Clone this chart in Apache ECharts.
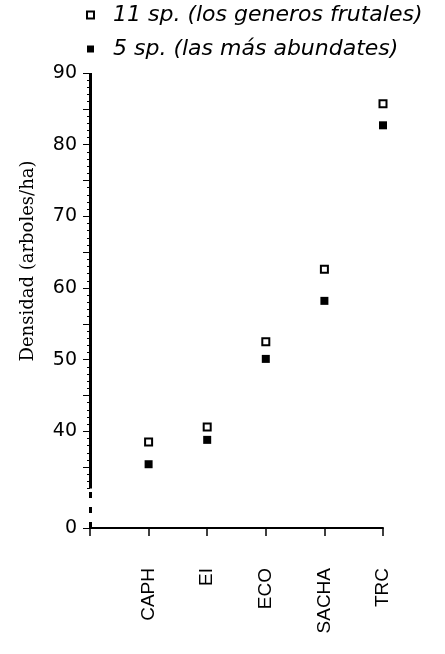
<!DOCTYPE html>
<html>
<head>
<meta charset="utf-8">
<script src="https://cdn.jsdelivr.net/npm/echarts@6/dist/echarts.min.js"></script>
<style>
  html, body { margin: 0; padding: 0; background: #fff; }
  #chart { width: 445px; height: 654px; }
</style>
</head>
<body>
<div id="chart"></div>
<script>
// datos
var sitios = ['CAPH', 'EI', 'ECO', 'SACHA', 'TRC'];
var sp11 = [38.5, 40.6, 52.5, 62.6, 85.7];
var sp5 = [35.4, 38.8, 50.1, 58.2, 82.7];
var serie11 = '11 sp. (los generos frutales)';
var serie5 = '5 sp. (las más abundates)';

// eje Y cortado: el 0 se dibuja en la posicion 26.5
var yCero = 26.5;
var yCorte = 32;
var yMax = 90;
var yEtiquetas = [yCero, 40, 50, 60, 70, 80, 90];
var yMarcas = [yCero, 35, 40, 45, 50, 55, 60, 65, 70, 75, 80, 85, 90];
var yMenores = [];
for (var v = yCorte; v <= yMax; v++) yMenores.push(v);

function puntos(valores) {
    return valores.map(function (y, i) { return [i + 1, y]; });
}

var chart = echarts.init(document.getElementById('chart'));

var option = {
    animation: false,
    backgroundColor: '#fff',
    legend: {
        orient: 'vertical',
        left: 86,
        top: 3,
        padding: 0,
        itemWidth: 7,
        itemHeight: 7,
        itemGap: 10,
        selectedMode: false,
        textStyle: {
            fontFamily: 'DejaVu Sans',
            fontStyle: 'italic',
            fontSize: 22,
            lineHeight: 24,
            color: '#000',
            padding: [0, 0, 0, 14]
        },
        data: [serie11, serie5]
    },
    grid: { left: 90, right: 62, top: 73, bottom: 126 },
    xAxis: {
        type: 'value',
        min: 0,
        max: 5,
        interval: 1,
        splitLine: { show: false },
        axisLine: { lineStyle: { color: '#000', width: 2 } },
        axisTick: { length: 8, lineStyle: { color: '#000', width: 1.5 } },
        axisLabel: {
            rotate: 90,
            margin: 40,
            color: '#000',
            fontFamily: 'Liberation Sans',
            fontSize: 19,
            formatter: function (v) { return sitios[v - 1] || ''; }
        }
    },
    yAxis: [{
        type: 'value',
        min: yCero,
        max: yMax,
        splitLine: { show: false },
        axisLine: { show: false },
        axisTick: {
            customValues: yMarcas,
            length: 7,
            lineStyle: { color: '#000', width: 1 }
        },
        axisLabel: {
            customValues: yEtiquetas,
            margin: 13,
            color: '#000',
            fontFamily: 'DejaVu Sans',
            fontSize: 19,
            formatter: function (v) { return v < yCorte ? '0' : String(v); }
        }
    }, {
        type: 'value',
        min: yCero,
        max: yMax,
        position: 'left',
        splitLine: { show: false },
        axisLine: { show: false },
        axisLabel: { show: false },
        axisTick: {
            customValues: yMenores,
            length: 3,
            lineStyle: { color: '#000', width: 1 }
        }
    }],
    graphic: [{
        type: 'text',
        x: 28,
        y: 261,
        rotation: Math.PI / 2,
        style: {
            text: 'Densidad (arboles/ha)',
            font: '18px "DejaVu Serif"',
            fill: '#000',
            align: 'center',
            verticalAlign: 'middle'
        }
    }],
    series: [{
        name: serie11,
        type: 'scatter',
        clip: false,
        symbol: 'rect',
        symbolSize: 7,
        itemStyle: { color: '#fff', borderColor: '#000', borderWidth: 2, opacity: 1 },
        data: puntos(sp11),
        // linea del eje Y: continua arriba del corte, punteada debajo
        markLine: {
            silent: true,
            z: 10,
            symbol: ['none', 'none'],
            label: { show: false },
            emphasis: { disabled: true },
            lineStyle: { color: '#000', width: 3, type: 'solid', opacity: 1 },
            data: [
                [{ coord: [0, yCorte] }, { coord: [0, yMax] }],
                [{ coord: [0, yCero], lineStyle: { type: [6, 9] } }, { coord: [0, yCorte] }]
            ]
        }
    }, {
        name: serie5,
        type: 'scatter',
        symbol: 'rect',
        symbolSize: 8,
        itemStyle: { color: '#000', opacity: 1 },
        data: puntos(sp5)
    }]
};

chart.setOption(option);
</script>
</body>
</html>
